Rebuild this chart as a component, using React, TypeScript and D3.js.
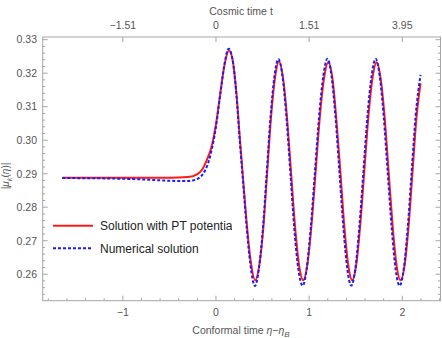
import React, { useRef, useEffect } from 'react';
import * as d3 from 'd3';

// conformal time eta - eta_B
const etaPT = [-1.65, -1.0, -0.5, -0.3, -0.2, -0.15, -0.1, -0.05, 0.0, 0.05, 0.09, 0.139, 0.18, 0.22, 0.258, 0.29, 0.33, 0.37, 0.422, 0.465, 0.51, 0.55, 0.59, 0.633, 0.676, 0.72, 0.762, 0.805, 0.848, 0.892, 0.937, 0.98, 1.025, 1.07, 1.115, 1.16, 1.205, 1.25, 1.29, 1.335, 1.377, 1.42, 1.462, 1.505, 1.548, 1.592, 1.636, 1.68, 1.724, 1.767, 1.81, 1.853, 1.896, 1.938, 1.981, 2.025, 2.068, 2.11, 2.153, 2.196];
const muPT = [0.2888, 0.2888, 0.2888, 0.289, 0.2899, 0.2912, 0.294, 0.2978, 0.3048, 0.3148, 0.3222, 0.3268, 0.3238, 0.3138, 0.3, 0.2888, 0.2752, 0.2645, 0.2582, 0.2627, 0.2745, 0.2905, 0.3065, 0.3185, 0.3235, 0.3185, 0.307, 0.2907, 0.2745, 0.2627, 0.2582, 0.2627, 0.2745, 0.2907, 0.307, 0.3185, 0.3233, 0.3185, 0.307, 0.2907, 0.2745, 0.2627, 0.2582, 0.2627, 0.2745, 0.2907, 0.307, 0.3185, 0.3233, 0.3185, 0.307, 0.2907, 0.2745, 0.2627, 0.2582, 0.2627, 0.2745, 0.2907, 0.307, 0.317];

const etaNum = [-1.65, -1.2, -0.8, -0.5, -0.35, -0.25, -0.18, -0.12, -0.06, 0.0, 0.05, 0.09, 0.135, 0.178, 0.218, 0.255, 0.288, 0.328, 0.368, 0.418, 0.46, 0.505, 0.545, 0.585, 0.628, 0.67, 0.713, 0.755, 0.798, 0.84, 0.884, 0.93, 0.973, 1.017, 1.062, 1.107, 1.152, 1.196, 1.24, 1.282, 1.325, 1.368, 1.41, 1.452, 1.495, 1.538, 1.582, 1.626, 1.67, 1.714, 1.757, 1.8, 1.843, 1.886, 1.928, 1.971, 2.015, 2.058, 2.1, 2.143, 2.196];
const muNum = [0.2887, 0.2886, 0.2883, 0.2879, 0.2878, 0.288, 0.2888, 0.2908, 0.2955, 0.304, 0.3145, 0.3225, 0.3273, 0.324, 0.314, 0.3, 0.2885, 0.2745, 0.2632, 0.2565, 0.2615, 0.274, 0.2905, 0.3068, 0.3192, 0.3242, 0.3192, 0.3072, 0.2905, 0.2738, 0.2615, 0.2566, 0.2615, 0.2738, 0.2905, 0.3072, 0.3192, 0.3243, 0.3192, 0.3072, 0.2905, 0.2738, 0.2615, 0.2566, 0.2615, 0.2738, 0.2905, 0.3072, 0.3192, 0.3243, 0.3192, 0.3072, 0.2905, 0.2738, 0.2615, 0.2566, 0.2615, 0.2738, 0.2905, 0.3072, 0.3195];

const bottomTicks = [-1, 0, 1, 2];
const topTickLabels = ['\u22121.51', '0', '1.51', '3.95'];
const leftTicks = [0.26, 0.27, 0.28, 0.29, 0.3, 0.31, 0.32, 0.33];
const legendLabels = ['Solution with PT potential', 'Numerical solution'];

const W = 442;
const H = 338;

const App = () => {
  const svgRef = useRef<SVGSVGElement>(null);

  useEffect(() => {
    const svg = d3.select(svgRef.current);
    svg.selectAll('*').remove();

    const left = 42.7, right = 440.5, top = 37, bottom = 300.7;
    const x = d3.scaleLinear().domain([-1.86, 2.41]).range([left, right]);
    const y = d3.scaleLinear().domain([0.2521, 0.3308]).range([bottom, top]);

    const frameColor = '#a6a6a6';
    const textColor = '#555';
    const font = 'Liberation Sans, Arial, sans-serif';

    // clip for curves
    svg.append('defs').append('clipPath').attr('id', 'plotclip')
      .append('rect').attr('x', left).attr('y', top)
      .attr('width', right - left).attr('height', bottom - top);
    svg.select('defs').append('clipPath').attr('id', 'legclip')
      .append('rect').attr('x', 0).attr('y', 200).attr('width', 232).attr('height', 40);

    // frame
    svg.append('rect')
      .attr('x', left).attr('y', top)
      .attr('width', right - left).attr('height', bottom - top)
      .attr('fill', 'none').attr('stroke', frameColor).attr('stroke-width', 1);

    const ticks = svg.append('g').attr('stroke', frameColor).attr('stroke-width', 1);

    // bottom ticks: major 1, minor 0.2
    d3.range(-1.8, 2.41, 0.2).forEach(v => {
      const isMajor = Math.abs(v - Math.round(v)) < 1e-6;
      const px = x(v);
      ticks.append('line').attr('x1', px).attr('x2', px)
        .attr('y1', bottom).attr('y2', bottom - (isMajor ? 5 : 2.5));
    });
    // top ticks: major only
    bottomTicks.forEach(v => {
      ticks.append('line').attr('x1', x(v)).attr('x2', x(v))
        .attr('y1', top).attr('y2', top + 5);
    });
    // left/right ticks: major 0.01, minor 0.002
    d3.range(0.254, 0.3308, 0.002).forEach(v => {
      const isMajor = Math.abs(v * 100 - Math.round(v * 100)) < 1e-6;
      const py = y(v);
      const len = isMajor ? 5 : 2.5;
      ticks.append('line').attr('x1', left).attr('x2', left + len).attr('y1', py).attr('y2', py);
      ticks.append('line').attr('x1', right).attr('x2', right - len).attr('y1', py).attr('y2', py);
    });

    // tick labels
    const labels = svg.append('g').attr('font-family', font).attr('font-size', 10.5).attr('fill', textColor);
    bottomTicks.forEach(v => {
      labels.append('text').attr('x', x(v)).attr('y', 316)
        .attr('text-anchor', 'middle')
        .text(v < 0 ? '\u2212' + Math.abs(v) : String(v));
    });
    bottomTicks.forEach((v, i) => {
      labels.append('text').attr('x', x(v)).attr('y', 29)
        .attr('text-anchor', 'middle').text(topTickLabels[i]);
    });
    leftTicks.forEach(v => {
      labels.append('text').attr('x', 37).attr('y', y(v) + 3.8)
        .attr('text-anchor', 'end').text(v.toFixed(2));
    });

    // axis titles
    svg.append('text').attr('x', 241).attr('y', 15)
      .attr('text-anchor', 'middle').attr('font-family', font).attr('font-size', 10.5)
      .attr('fill', textColor).text('Cosmic time t');

    const xt = svg.append('text').attr('x', 241).attr('y', 334)
      .attr('text-anchor', 'middle').attr('font-family', font).attr('font-size', 10.5)
      .attr('fill', textColor);
    xt.append('tspan').text('Conformal time ');
    xt.append('tspan').attr('font-style', 'italic').text('\u03b7');
    xt.append('tspan').text('\u2212');
    xt.append('tspan').attr('font-style', 'italic').text('\u03b7');
    xt.append('tspan').attr('font-style', 'italic').attr('font-size', 8).attr('dy', 3).text('B');

    const yt = svg.append('text')
      .attr('transform', 'translate(9,176) rotate(-90)')
      .attr('text-anchor', 'middle').attr('font-family', font).attr('font-size', 10)
      .attr('fill', textColor);
    yt.append('tspan').text('|');
    yt.append('tspan').attr('font-style', 'italic').text('\u03bc');
    yt.append('tspan').attr('font-style', 'italic').attr('font-size', 7.5).attr('dy', 2.5).text('k');
    yt.append('tspan').attr('dy', -2.5).text('(');
    yt.append('tspan').attr('font-style', 'italic').text('\u03b7');
    yt.append('tspan').text(')|');

    // legend
    const leg = svg.append('g');
    leg.append('line').attr('x1', 53).attr('x2', 93).attr('y1', 225.7).attr('y2', 225.7)
      .attr('stroke', '#ff1a1a').attr('stroke-width', 2);
    leg.append('line').attr('x1', 53).attr('x2', 93).attr('y1', 248.3).attr('y2', 248.3)
      .attr('stroke', '#1a1aff').attr('stroke-width', 2).attr('stroke-dasharray', '3,2');
    leg.append('text').attr('x', 100).attr('y', 230)
      .attr('font-family', font).attr('font-size', 12).attr('fill', '#222')
      .attr('clip-path', 'url(#legclip)')
      .text(legendLabels[0]);
    leg.append('text').attr('x', 100).attr('y', 252.6)
      .attr('font-family', font).attr('font-size', 12).attr('fill', '#222')
      .text(legendLabels[1]);

    // curves
    const line = d3.line<[number, number]>()
      .x(d => x(d[0])).y(d => y(d[1]))
      .curve(d3.curveMonotoneX);

    const plot = svg.append('g').attr('clip-path', 'url(#plotclip)');
    plot.append('path')
      .datum(etaPT.map((e, i) => [e, muPT[i]] as [number, number]))
      .attr('d', line).attr('fill', 'none')
      .attr('stroke', '#ff1a1a').attr('stroke-width', 2);
    plot.append('path')
      .datum(etaNum.map((e, i) => [e, muNum[i]] as [number, number]))
      .attr('d', line).attr('fill', 'none')
      .attr('stroke', '#1a1aff').attr('stroke-width', 2)
      .attr('stroke-dasharray', '3,2');
  }, []);

  return (
    <svg
      ref={svgRef}
      width={W}
      height={H}
      style={{ position: 'absolute', left: 0, top: 0, background: '#fff' }}
    />
  );
};

export default App;
